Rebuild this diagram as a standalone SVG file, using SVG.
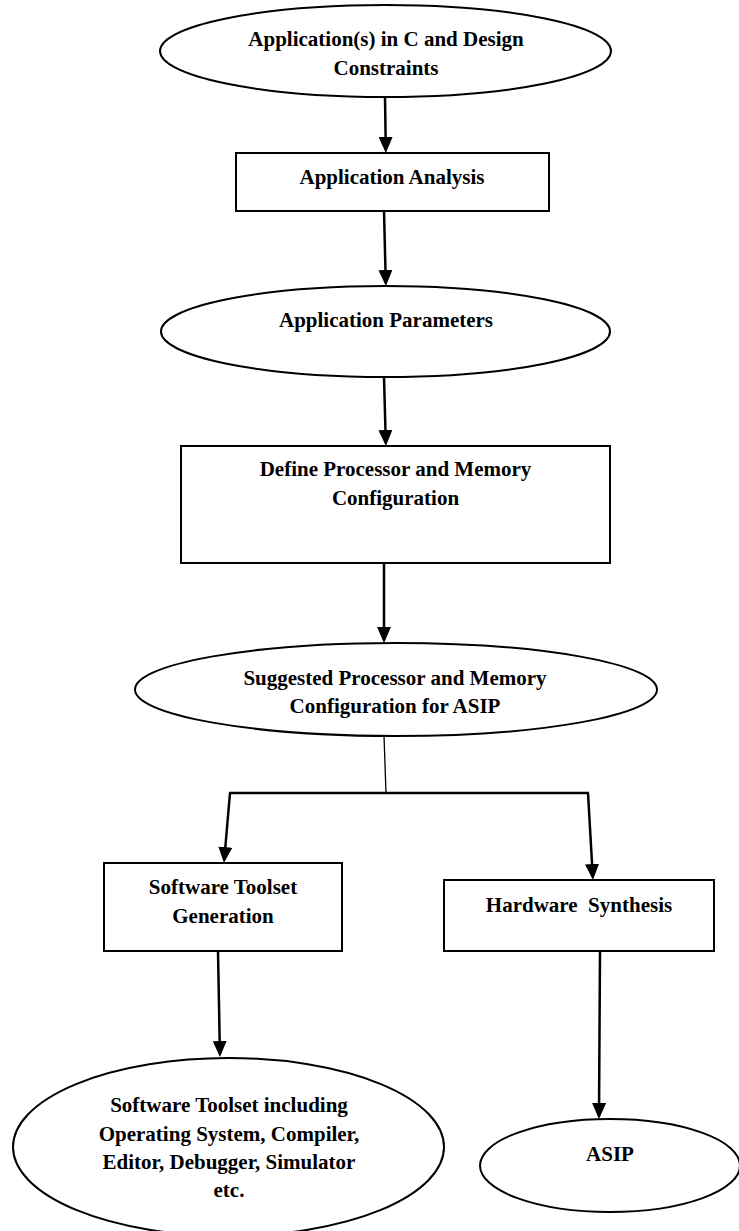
<svg xmlns="http://www.w3.org/2000/svg" width="739" height="1231" viewBox="0 0 739 1231">
<style>
.shape{fill:#fff;stroke:#000;stroke-width:2}
.lbl{font-family:"Liberation Serif","Times New Roman",serif;font-weight:bold;font-size:21px;fill:#000;text-anchor:middle}
.conn{fill:none;stroke:#000;stroke-width:2.5}
.thin{fill:none;stroke:#000;stroke-width:1.3}
</style>
<defs>
<marker id="arr" markerUnits="userSpaceOnUse" markerWidth="16" markerHeight="14" refX="13" refY="7" orient="auto">
<path d="M0,0 L16,7 L0,14 z" fill="#000"/>
</marker>
</defs>
<rect width="739" height="1231" fill="#fff"/>
<g id="connectors">
<line class="conn" x1="385" y1="97" x2="385.8" y2="150" marker-end="url(#arr)"/>
<line class="conn" x1="384" y1="211" x2="385.8" y2="283" marker-end="url(#arr)"/>
<line class="conn" x1="384" y1="377" x2="385.8" y2="443" marker-end="url(#arr)"/>
<line class="conn" x1="384" y1="563" x2="384" y2="640" marker-end="url(#arr)"/>
<line class="thin" x1="384" y1="736" x2="386" y2="793"/>
<line class="conn" x1="229" y1="793" x2="589" y2="793"/>
<line class="conn" x1="230" y1="793" x2="224.2" y2="860" marker-end="url(#arr)"/>
<line class="conn" x1="588" y1="793" x2="592.8" y2="877" marker-end="url(#arr)"/>
<line class="conn" x1="218" y1="951" x2="219.9" y2="1054" marker-end="url(#arr)"/>
<line class="conn" x1="600" y1="951" x2="599" y2="1116" marker-end="url(#arr)"/>
</g>
<g id="n-app">
<ellipse class="shape" cx="385.5" cy="51" rx="225.5" ry="46"/>
<text class="lbl" x="386" y="46">Application(s) in C and Design</text>
<text class="lbl" x="386" y="75">Constraints</text>
</g>
<g id="n-analysis">
<rect class="shape" x="236" y="153" width="313" height="58"/>
<text class="lbl" x="392" y="184">Application Analysis</text>
</g>
<g id="n-params">
<ellipse class="shape" cx="385.5" cy="331.5" rx="224.5" ry="45.5"/>
<text class="lbl" x="386" y="327">Application Parameters</text>
</g>
<g id="n-define">
<rect class="shape" x="181" y="446" width="429" height="117"/>
<text class="lbl" x="395.5" y="476">Define Processor and Memory</text>
<text class="lbl" x="395.5" y="505">Configuration</text>
</g>
<g id="n-suggested">
<ellipse class="shape" cx="396" cy="689.5" rx="261" ry="46.5"/>
<text class="lbl" x="395" y="685">Suggested Processor and Memory</text>
<text class="lbl" x="395" y="713">Configuration for ASIP</text>
</g>
<g id="n-swgen">
<rect class="shape" x="104" y="863" width="238" height="88"/>
<text class="lbl" x="223" y="894">Software Toolset</text>
<text class="lbl" x="223" y="923">Generation</text>
</g>
<g id="n-hwsyn">
<rect class="shape" x="444" y="880" width="270" height="71"/>
<text class="lbl" x="579" y="912" xml:space="preserve">Hardware  Synthesis</text>
</g>
<g id="n-swtool">
<ellipse class="shape" cx="228.5" cy="1147" rx="215.5" ry="89"/>
<text class="lbl" x="229" y="1112">Software Toolset including</text>
<text class="lbl" x="229" y="1140.5">Operating System, Compiler,</text>
<text class="lbl" x="229" y="1169">Editor, Debugger, Simulator</text>
<text class="lbl" x="229" y="1197">etc.</text>
</g>
<g id="n-asip">
<ellipse class="shape" cx="610" cy="1165.5" rx="130" ry="46.5"/>
<text class="lbl" x="610" y="1161">ASIP</text>
</g>
</svg>
